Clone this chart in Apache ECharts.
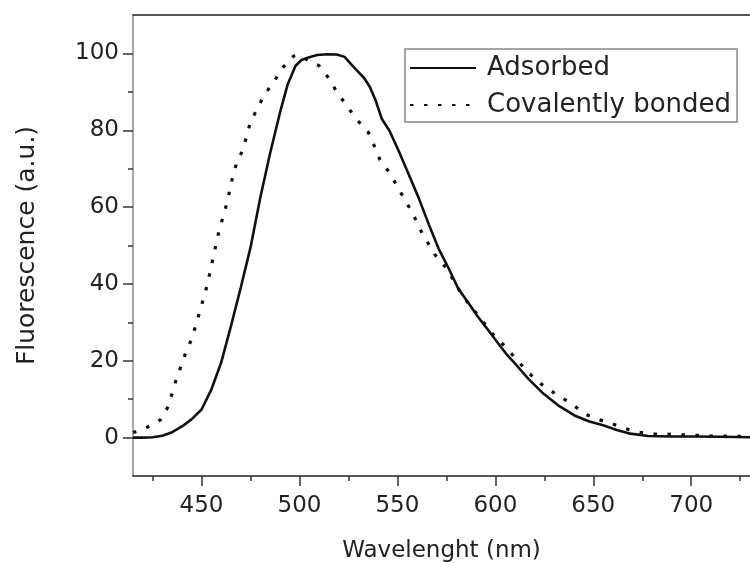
<!DOCTYPE html>
<html>
<head>
<meta charset="utf-8">
<script src="https://cdn.jsdelivr.net/npm/echarts@6/dist/echarts.min.js"></script>
<style>
  html, body { margin: 0; padding: 0; background: #fff; }
  #chart { width: 750px; height: 563px; }
</style>
</head>
<body>
<div id="chart"></div>
<script>
// wavelength (nm) / fluorescence (a.u.)
var adsorbedX = [415,420,425,430,435,440,445,450,455,460,465,470,475,480,485,490,494,498,501,505,509,514,519,523,527,530,533,536,539,542,546,551,556,561,566,571,576,581,586,591,596,601,606,611,617,624,632,641,648,655,662,668,678,690,700,715,730];
var adsorbedY = [0,0,0.1,0.5,1.4,2.9,4.8,7.3,12.5,19.5,29,39,49.5,62.5,74,84.5,92,96.8,98.3,99,99.6,99.8,99.7,99.1,96.8,95.2,93.6,91.2,87.6,83,79.8,74.2,68.2,62.2,55.5,49.2,44.2,38.8,35.2,31.5,28.2,24.8,21.5,18.7,15.2,11.7,8.4,5.6,4.2,3.2,2,1.1,0.4,0.3,0.3,0.2,0.1];

var covalentX = [415,420,425,429,433,437,442,445,449,453,456,459,463,466,468,471,475,479,482,487,491,497,500,504,510,515,519,524,529,535,538,541,546,550,554,558,561,565,569,575,579,583,593,599,605,611,617,624,631,639,645,652,659,666,673,680,687,696,712,730];
var covalentY = [1.3,2.2,3.3,4.6,8.1,15,22.2,25.7,32.6,39.9,47.1,54,61.1,68.2,71.6,74.8,82.2,86.1,89.2,92.6,96.1,99.3,99.6,98.3,96.8,93.5,90,86.5,82.9,79.6,76.1,72.4,68.9,65.3,61.7,58.2,54.7,51.2,47.7,44.1,40.6,37.1,30.6,26.7,23.7,20.2,16.8,13.7,11.3,8.8,6.3,4.8,3.7,2.4,1.4,0.9,0.9,0.7,0.4,0.3];

var xMajor = [450,500,550,600,650,700];
var xMinor = [425,475,525,575,625,675,725];
var yMajor = [0,20,40,60,80,100];
var yMinor = [10,30,50,70,90];

function pairs(xs, ys) {
    var out = [];
    for (var i = 0; i < xs.length; i++) {
        out.push([xs[i], ys[i]]);
    }
    return out;
}

var font = 'DejaVu Sans';
var textColor = '#222';

var chart = echarts.init(document.getElementById('chart'));
var option = {
    backgroundColor: '#fff',
    animation: false,
    grid: { left: 133, right: 0, top: 15, bottom: 87, outerBoundsMode: 'none' },
    legend: {
        orient: 'vertical',
        left: 405,
        top: 49,
        padding: [6, 6, 4, 4],
        itemGap: 11,
        itemWidth: 66,
        itemHeight: 14,
        borderColor: '#888',
        borderWidth: 1.5,
        backgroundColor: '#fff',
        itemStyle: { opacity: 0 },
        textStyle: { fontFamily: font, fontSize: 26, color: textColor, padding: [0, 0, 0, 6] },
        data: ['Adsorbed', 'Covalently bonded']
    },
    xAxis: [
        {
            type: 'value', min: 415, max: 730, position: 'bottom',
            axisLine: { onZero: false, lineStyle: { color: '#222', width: 1.5 } },
            axisTick: { customValues: xMajor, length: 10, lineStyle: { color: '#333', width: 1.5 } },
            axisLabel: { customValues: xMajor, fontFamily: font, fontSize: 23, color: textColor, margin: 19 },
            splitLine: { show: false },
            name: 'Wavelenght (nm)', nameLocation: 'middle', nameGap: 64,
            nameTextStyle: { fontFamily: font, fontSize: 23, color: textColor }
        },
        {
            type: 'value', min: 415, max: 730, position: 'bottom',
            axisLine: { show: false, onZero: false },
            axisTick: { customValues: xMinor, length: 5, lineStyle: { color: '#333', width: 1.5 } },
            axisLabel: { show: false },
            splitLine: { show: false }
        },
        {
            type: 'value', min: 415, max: 730, position: 'top',
            axisLine: { onZero: false, lineStyle: { color: '#222', width: 1.5 } },
            axisTick: { show: false },
            axisLabel: { show: false },
            splitLine: { show: false }
        }
    ],
    yAxis: [
        {
            type: 'value', min: -10, max: 110, position: 'left',
            axisLine: { show: true, onZero: false, lineStyle: { color: '#888', width: 1.5 } },
            axisTick: { show: true, customValues: yMajor, length: 10, lineStyle: { color: '#333', width: 1.5 } },
            axisLabel: { customValues: yMajor, fontFamily: font, fontSize: 23, color: textColor, margin: 14 },
            splitLine: { show: false },
            name: 'Fluorescence (a.u.)', nameLocation: 'middle', nameGap: 93,
            nameTextStyle: { fontFamily: font, fontSize: 25, color: textColor }
        },
        {
            type: 'value', min: -10, max: 110, position: 'left',
            axisLine: { show: false, onZero: false },
            axisTick: { show: true, customValues: yMinor, length: 5, lineStyle: { color: '#333', width: 1.5 } },
            axisLabel: { show: false },
            splitLine: { show: false }
        }
    ],
    series: [
        {
            name: 'Adsorbed', type: 'line', xAxisIndex: 0, yAxisIndex: 0,
            symbol: 'none', smooth: false,
            lineStyle: { color: '#111', width: 2.6 },
            itemStyle: { color: '#111' },
            data: pairs(adsorbedX, adsorbedY)
        },
        {
            name: 'Covalently bonded', type: 'line', xAxisIndex: 0, yAxisIndex: 0,
            symbol: 'none', smooth: false,
            lineStyle: { color: '#111', width: 3.2, type: [3.5, 10.5] },
            itemStyle: { color: '#111' },
            data: pairs(covalentX, covalentY)
        }
    ]
};
chart.setOption(option);
</script>
</body>
</html>
